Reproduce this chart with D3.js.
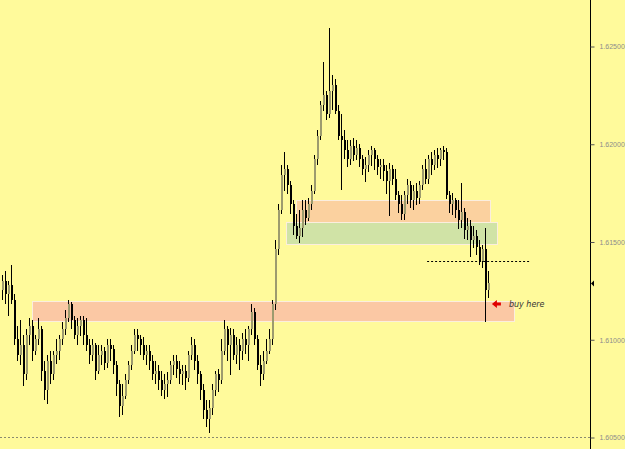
<!DOCTYPE html>
<html>
<head>
<meta charset="utf-8">
<script src="https://cdn.jsdelivr.net/npm/d3@7"></script>
<style>
body{margin:0;background:#fffa9b;}
svg{display:block;}
</style>
</head>
<body>
<div id="chart"></div>
<script>
// price data, one candle per bar (oldest first)
var opens=[1.6125,1.6130,1.6123,1.6128,1.6120,1.6100,1.6092,1.6097,1.6082,1.6102,
1.6107,1.6094,1.6100,1.6105,1.6084,1.6074,1.6089,1.6082,1.6092,1.6094,
1.6100,1.6105,1.6111,1.6118,1.6110,1.6102,1.6107,1.6110,1.6102,1.6097,
1.6092,1.6097,1.6084,1.6092,1.6094,1.6088,1.6097,1.6095,1.6087,1.6077,
1.6066,1.6071,1.6079,1.6087,1.6094,1.6102,1.6100,1.6097,1.6092,1.6094,
1.6089,1.6082,1.6084,1.6079,1.6074,1.6077,1.6079,1.6087,1.6089,1.6085,
1.6082,1.6084,1.6080,1.6092,1.6097,1.6089,1.6082,1.6074,1.6064,1.6059,
1.6065,1.6074,1.6082,1.6079,1.6094,1.6105,1.6097,1.6102,1.6092,1.6097,
1.6094,1.6100,1.6097,1.6105,1.6114,1.6100,1.6087,1.6082,1.6089,1.6094,
1.6100,1.6118,1.6146,1.6166,1.6184,1.6187,1.6179,1.6169,1.6158,1.6153,
1.6157,1.6166,1.6162,1.6169,1.6176,1.6192,1.6204,1.6220,1.6225,1.6215,
1.6227,1.6230,1.6217,1.6204,1.6202,1.6197,1.6192,1.6199,1.6194,1.6198,
1.6192,1.6187,1.6189,1.6194,1.6197,1.6192,1.6188,1.6189,1.6186,1.6181,
1.6187,1.6182,1.6174,1.6169,1.6164,1.6174,1.6179,1.6171,1.6176,1.6172,
1.6179,1.6187,1.6182,1.6192,1.6189,1.6194,1.6192,1.6197,1.6196,1.6174,
1.6169,1.6171,1.6166,1.6161,1.6165,1.6156,1.6158,1.6151,1.6153,1.6147,
1.6140,1.6146,1.6125];
var highs=[1.6133,1.6135,1.6130,1.6138,1.6123,1.6107,1.6110,1.6102,1.6105,1.6111,
1.6110,1.6102,1.6111,1.6107,1.6089,1.6092,1.6094,1.6094,1.6100,1.6102,
1.6109,1.6115,1.6120,1.6119,1.6112,1.6111,1.6112,1.6112,1.6111,1.6100,
1.6100,1.6098,1.6097,1.6097,1.6096,1.6100,1.6100,1.6097,1.6089,1.6079,
1.6077,1.6082,1.6089,1.6097,1.6105,1.6105,1.6102,1.6101,1.6097,1.6097,
1.6092,1.6089,1.6087,1.6084,1.6082,1.6083,1.6089,1.6092,1.6092,1.6089,
1.6087,1.6087,1.6094,1.6101,1.6100,1.6092,1.6084,1.6077,1.6069,1.6069,
1.6077,1.6084,1.6085,1.6100,1.6110,1.6107,1.6106,1.6105,1.6101,1.6100,
1.6103,1.6105,1.6107,1.6118,1.6116,1.6102,1.6092,1.6094,1.6100,1.6105,
1.6120,1.6151,1.6169,1.6189,1.6196,1.6189,1.6181,1.6171,1.6164,1.6166,
1.6171,1.6171,1.6172,1.6179,1.6194,1.6207,1.6222,1.6242,1.6227,1.6259,
1.6235,1.6233,1.6220,1.6215,1.6207,1.6202,1.6202,1.6203,1.6202,1.6200,
1.6194,1.6193,1.6197,1.6199,1.6198,1.6194,1.6192,1.6192,1.6189,1.6190,
1.6189,1.6187,1.6176,1.6174,1.6176,1.6182,1.6181,1.6179,1.6180,1.6181,
1.6189,1.6192,1.6194,1.6196,1.6197,1.6198,1.6198,1.6199,1.6198,1.6176,
1.6175,1.6172,1.6171,1.6180,1.6167,1.6162,1.6161,1.6158,1.6156,1.6151,
1.6148,1.6157,1.6135];
var lows=[1.6120,1.6118,1.6112,1.6118,1.6097,1.6089,1.6087,1.6076,1.6079,1.6097,
1.6089,1.6092,1.6097,1.6079,1.6069,1.6067,1.6077,1.6079,1.6087,1.6089,
1.6097,1.6102,1.6109,1.6105,1.6100,1.6097,1.6102,1.6097,1.6094,1.6087,
1.6089,1.6079,1.6082,1.6087,1.6084,1.6085,1.6089,1.6082,1.6071,1.6060,
1.6061,1.6069,1.6077,1.6084,1.6092,1.6094,1.6092,1.6089,1.6087,1.6084,
1.6079,1.6077,1.6074,1.6071,1.6069,1.6070,1.6077,1.6082,1.6080,1.6077,
1.6077,1.6074,1.6078,1.6089,1.6084,1.6077,1.6069,1.6059,1.6055,1.6052,
1.6061,1.6071,1.6073,1.6077,1.6092,1.6089,1.6082,1.6089,1.6087,1.6084,
1.6089,1.6092,1.6089,1.6102,1.6097,1.6084,1.6076,1.6079,1.6087,1.6092,
1.6097,1.6115,1.6143,1.6164,1.6176,1.6174,1.6164,1.6153,1.6151,1.6149,
1.6152,1.6158,1.6160,1.6166,1.6174,1.6189,1.6202,1.6217,1.6212,1.6213,
1.6217,1.6215,1.6202,1.6176,1.6192,1.6188,1.6189,1.6191,1.6192,1.6188,
1.6184,1.6180,1.6186,1.6189,1.6187,1.6184,1.6182,1.6181,1.6174,1.6163,
1.6179,1.6171,1.6165,1.6161,1.6161,1.6169,1.6167,1.6166,1.6169,1.6169,
1.6176,1.6179,1.6179,1.6184,1.6187,1.6188,1.6189,1.6192,1.6172,1.6165,
1.6164,1.6162,1.6156,1.6157,1.6151,1.6151,1.6142,1.6147,1.6143,1.6138,
1.6136,1.6109,1.6121];
var closes=[1.6130,1.6123,1.6128,1.6120,1.6100,1.6092,1.6097,1.6082,1.6102,1.6107,
1.6094,1.6100,1.6105,1.6084,1.6074,1.6089,1.6082,1.6092,1.6094,1.6100,
1.6105,1.6111,1.6118,1.6110,1.6102,1.6107,1.6110,1.6102,1.6097,1.6092,
1.6097,1.6084,1.6092,1.6094,1.6088,1.6097,1.6095,1.6087,1.6077,1.6066,
1.6071,1.6079,1.6087,1.6094,1.6102,1.6100,1.6097,1.6092,1.6094,1.6089,
1.6082,1.6084,1.6079,1.6074,1.6077,1.6079,1.6087,1.6089,1.6085,1.6082,
1.6084,1.6080,1.6092,1.6097,1.6089,1.6082,1.6074,1.6064,1.6059,1.6065,
1.6074,1.6082,1.6079,1.6094,1.6105,1.6097,1.6102,1.6092,1.6097,1.6094,
1.6100,1.6097,1.6105,1.6114,1.6100,1.6087,1.6082,1.6089,1.6094,1.6100,
1.6118,1.6146,1.6166,1.6184,1.6187,1.6179,1.6169,1.6158,1.6153,1.6157,
1.6166,1.6162,1.6169,1.6176,1.6192,1.6204,1.6220,1.6225,1.6215,1.6227,
1.6230,1.6217,1.6204,1.6202,1.6197,1.6192,1.6199,1.6194,1.6198,1.6192,
1.6187,1.6189,1.6194,1.6197,1.6192,1.6188,1.6189,1.6186,1.6181,1.6187,
1.6182,1.6174,1.6169,1.6164,1.6174,1.6179,1.6171,1.6176,1.6172,1.6179,
1.6187,1.6182,1.6192,1.6189,1.6194,1.6192,1.6197,1.6196,1.6174,1.6169,
1.6171,1.6166,1.6161,1.6165,1.6156,1.6158,1.6151,1.6153,1.6147,1.6140,
1.6146,1.6125,1.6129];

// price axis labels
var tickVals=[1.605,1.610,1.615,1.620,1.625];

// zones drawn on the chart: [startBar, endBar, topPrice, bottomPrice]
var zoneStart=[10,98,94.7];
var zoneEnd=[170.7,162.7,165];
var zoneTop=[1.61196,1.61712,1.61600];
var zoneBottom=[1.61093,1.61600,1.61487];
var zoneColor=["#fbc8a4","#fbd19f","#d0e3a6"];

var dashPrice=1.6140, dashStart=141.7, dashEnd=176;
var lastPrice=1.61288;
var arrowBar=163.3, arrowPrice=1.6118;
var noteText="buy here";

var W=625,H=449,axisX=590;
var svg=d3.select("#chart").append("svg").attr("width",W).attr("height",H);
svg.append("rect").attr("width",W).attr("height",H).attr("fill","#fffa9b");

var x=d3.scaleLinear().domain([0,162]).range([2,488]);
var y=d3.scaleLinear().domain([1.605,1.625]).range([437,46]);

// zones
var zones=svg.append("g");
zoneTop.forEach(function(t,i){
	zones.append("rect")
	.attr("x",Math.round(x(zoneStart[i]))+0.5)
	.attr("y",Math.round(y(t))+0.5)
	.attr("width",Math.round(x(zoneEnd[i])-x(zoneStart[i])))
	.attr("height",Math.round(y(zoneBottom[i])-y(t)))
	.attr("fill",zoneColor[i])
	.attr("stroke","#fbeede")
	.attr("stroke-width",1);
});

// bottom dotted line
svg.append("line")
	.attr("x1",0).attr("x2",axisX)
	.attr("y1",Math.round(y(1.605))+0.5).attr("y2",Math.round(y(1.605))+0.5)
	.attr("stroke","#8a8a70").attr("stroke-dasharray","2,2");

// candles
var candles=svg.append("g");
closes.forEach(function(c,i){
	var cx=Math.round(x(i));
	var o=opens[i];
	candles.append("rect")
		.attr("x",cx).attr("width",1)
		.attr("y",Math.round(y(highs[i])))
		.attr("height",Math.max(1,Math.round(y(lows[i])-y(highs[i]))))
		.attr("fill","#000");
	var top=Math.round(y(Math.max(o,c))),bot=Math.round(y(Math.min(o,c)));
	candles.append("rect")
		.attr("x",cx).attr("width",2)
		.attr("y",top).attr("height",Math.max(1,bot-top))
		.attr("fill",c>=o?"#9d9b6e":"#000");
});

// dashed level
svg.append("line")
	.attr("x1",x(dashStart)).attr("x2",x(dashEnd))
	.attr("y1",Math.round(y(dashPrice))+0.5).attr("y2",Math.round(y(dashPrice))+0.5)
	.attr("stroke","#000").attr("stroke-dasharray","2,2");

// red arrow and note
var ax=x(arrowBar),ay=y(arrowPrice);
svg.append("path")
	.attr("d","M"+ax+" "+ay+" l5 -4 l0 2.5 l4 0 l0 3 l-4 0 l0 2.5 z")
	.attr("fill","#e00000");
svg.append("text")
	.attr("x",ax+17).attr("y",ay+3)
	.attr("font-family","DejaVu Sans, sans-serif")
	.attr("font-style","italic")
	.attr("font-size","8px")
	.attr("fill","#333")
	.text(noteText);

// right price axis
svg.append("line")
	.attr("x1",axisX+0.5).attr("x2",axisX+0.5)
	.attr("y1",0).attr("y2",H)
	.attr("stroke","#000");
var axis=svg.append("g")
	.attr("transform","translate("+(axisX+0.5)+",0.5)")
	.call(d3.axisRight(y).tickValues(tickVals).tickSize(4).tickPadding(5).tickFormat(d3.format(".5f")));
axis.select(".domain").remove();
axis.selectAll(".tick line").attr("stroke","#555");
axis.selectAll("text")
	.attr("fill","#8c8c8c")
	.attr("font-family","Liberation Sans, Arial, sans-serif")
	.attr("font-size","7px");

// current price marker
var ly=Math.round(y(lastPrice))+0.5;
svg.append("path")
	.attr("d","M"+(axisX+1)+" "+ly+" l3 -3 l0 6 z")
	.attr("fill","#000");
</script>
</body>
</html>
